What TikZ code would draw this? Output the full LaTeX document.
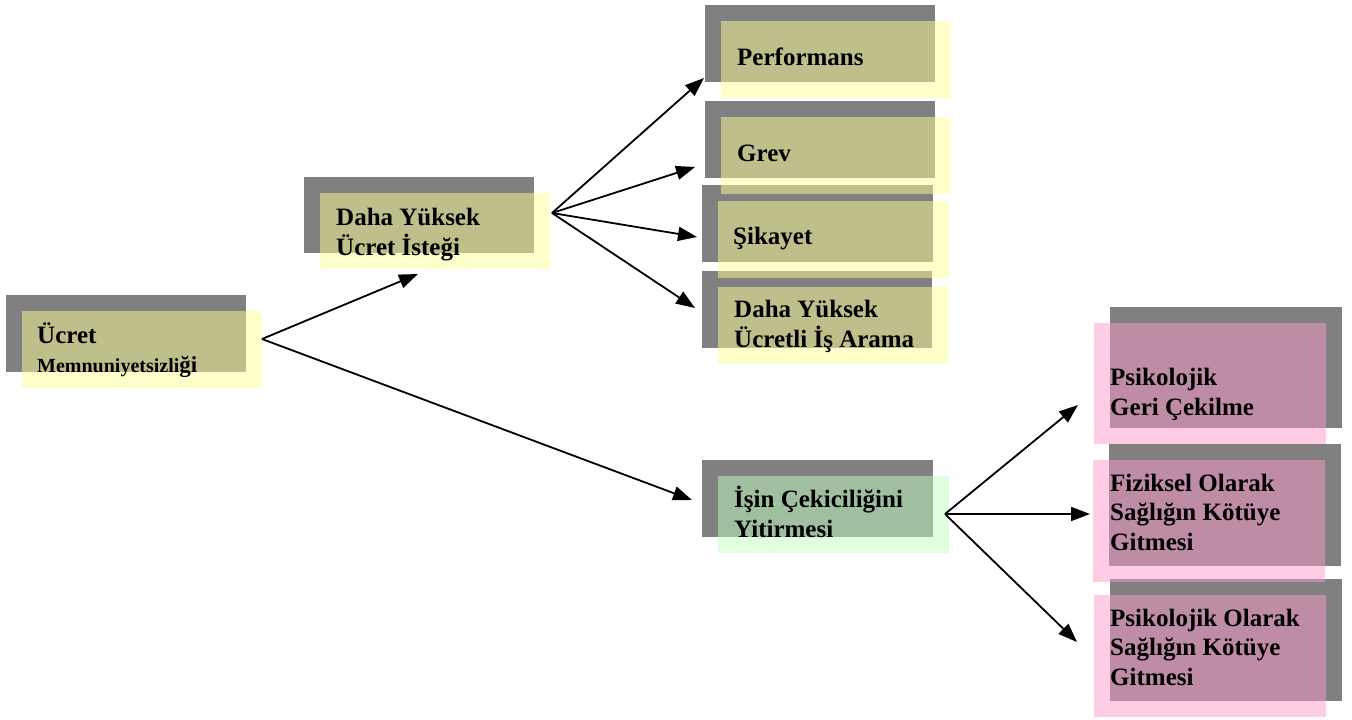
\documentclass[tikz,border=0pt]{standalone}
\usepackage{fontspec}
\setmainfont{Liberation Serif}
\usetikzlibrary{arrows.meta}
\definecolor{shade}{HTML}{808080}
\definecolor{yel}{HTML}{FFFF99}
\definecolor{grn}{HTML}{C0FFC0}
\definecolor{pnk}{HTML}{FF99CC}
\tikzset{
  shadowbox/.style={fill=shade},
  panel/.style={rectangle, inner sep=0pt, draw=none, fill opacity=0.5, anchor=north west},
  ybox/.style={panel, fill=yel},
  gbox/.style={panel, fill=grn},
  pbox/.style={panel, fill=pnk},
  % anchored at the baseline of the last line
  label/.style={anchor=base west, inner sep=0pt, align=left,
    font=\bfseries\fontsize{25}{29.5}\selectfont},
  link/.style={line width=1.8pt, -{Triangle[length=19pt,width=14pt]}}
}
\begin{document}
\begin{tikzpicture}[x=1pt,y=-1pt]
\useasboundingbox (0,0) rectangle (1352,720);

% grey shadow plates
\fill[shadowbox] (6,295) rectangle (246,372);
\fill[shadowbox] (304,177) rectangle (534,253);
\fill[shadowbox] (705,5) rectangle (935,82);
\fill[shadowbox] (705,101) rectangle (935,178);
\fill[shadowbox] (702,185) rectangle (933,262);
\fill[shadowbox] (702,271) rectangle (932,348);
\fill[shadowbox] (702,460) rectangle (933,537);
\fill[shadowbox] (1110,307) rectangle (1342,428);
\fill[shadowbox] (1109,444) rectangle (1341,566);
\fill[shadowbox] (1110,579) rectangle (1342,701);

% translucent colour panels
\node[ybox, minimum width=240pt, minimum height=77pt] (ucret) at (22,311) {};
\node[ybox, minimum width=230pt, minimum height=76pt] (istek) at (320,193) {};
\node[ybox, minimum width=230pt, minimum height=77pt] (perf) at (721,21) {};
\node[ybox, minimum width=230pt, minimum height=77pt] (grev) at (721,117) {};
\node[ybox, minimum width=231pt, minimum height=77pt] (sikayet) at (718,201) {};
\node[ybox, minimum width=230pt, minimum height=77pt] (arama) at (718,287) {};
\node[gbox, minimum width=231pt, minimum height=77pt] (cekici) at (718,476) {};
\node[pbox, minimum width=232pt, minimum height=121pt] (geri) at (1094,323) {};
\node[pbox, minimum width=232pt, minimum height=122pt] (fizik) at (1093,460) {};
\node[pbox, minimum width=232pt, minimum height=122pt] (psiko) at (1094,595) {};

% texts
\node[label] (tucret) at (37,372) {Ücret\\[-1pt]{\fontsize{20}{24}\selectfont Memnuniyetsizli}{\fontsize{23}{24}\selectfont ği}};
\node[label] (tistek) at (336,255) {Daha Yüksek\\Ücret İsteği};
\node[label] (tperf) at (737,65) {Performans};
\node[label] (tgrev) at (737,161) {Grev};
\node[label] (tsikayet) at (733,244) {Şikayet};
\node[label] (tarama) at (734,347) {Daha Yüksek\\Ücretli İş Arama};
\node[label] (tcekici) at (734,537) {İşin Çekiciliğini\\Yitirmesi};
\node[label] (tgeri) at (1110,415) {Psikolojik\\Geri Çekilme};
\node[label] (tfizik) at (1110,550) {Fiziksel Olarak\\Sağlığın Kötüye\\Gitmesi};
\node[label] (tpsiko) at (1110,685) {Psikolojik Olarak\\Sağlığın Kötüye\\Gitmesi};

% branching points and arrow ends
\coordinate (hubA) at (262,339);
\coordinate (hubB) at (552,213);
\coordinate (hubC) at (945,514);
\coordinate (toIstek) at (418,274);
\coordinate (toCekici) at (692,500);
\coordinate (toPerf) at (704,78);
\coordinate (toGrev) at (695,167);
\coordinate (toSikayet) at (697,237);
\coordinate (toArama) at (695,308);
\coordinate (toGeri) at (1078,405);
\coordinate (toFizik) at (1090,514);
\coordinate (toPsiko) at (1077,642);

\draw[link] (hubA) -- (toIstek);
\draw[link] (hubA) -- (toCekici);
\draw[link] (hubB) -- (toPerf);
\draw[link] (hubB) -- (toGrev);
\draw[link] (hubB) -- (toSikayet);
\draw[link] (hubB) -- (toArama);
\draw[link] (hubC) -- (toGeri);
\draw[link] (hubC) -- (toFizik);
\draw[link] (hubC) -- (toPsiko);
\end{tikzpicture}
\end{document}
